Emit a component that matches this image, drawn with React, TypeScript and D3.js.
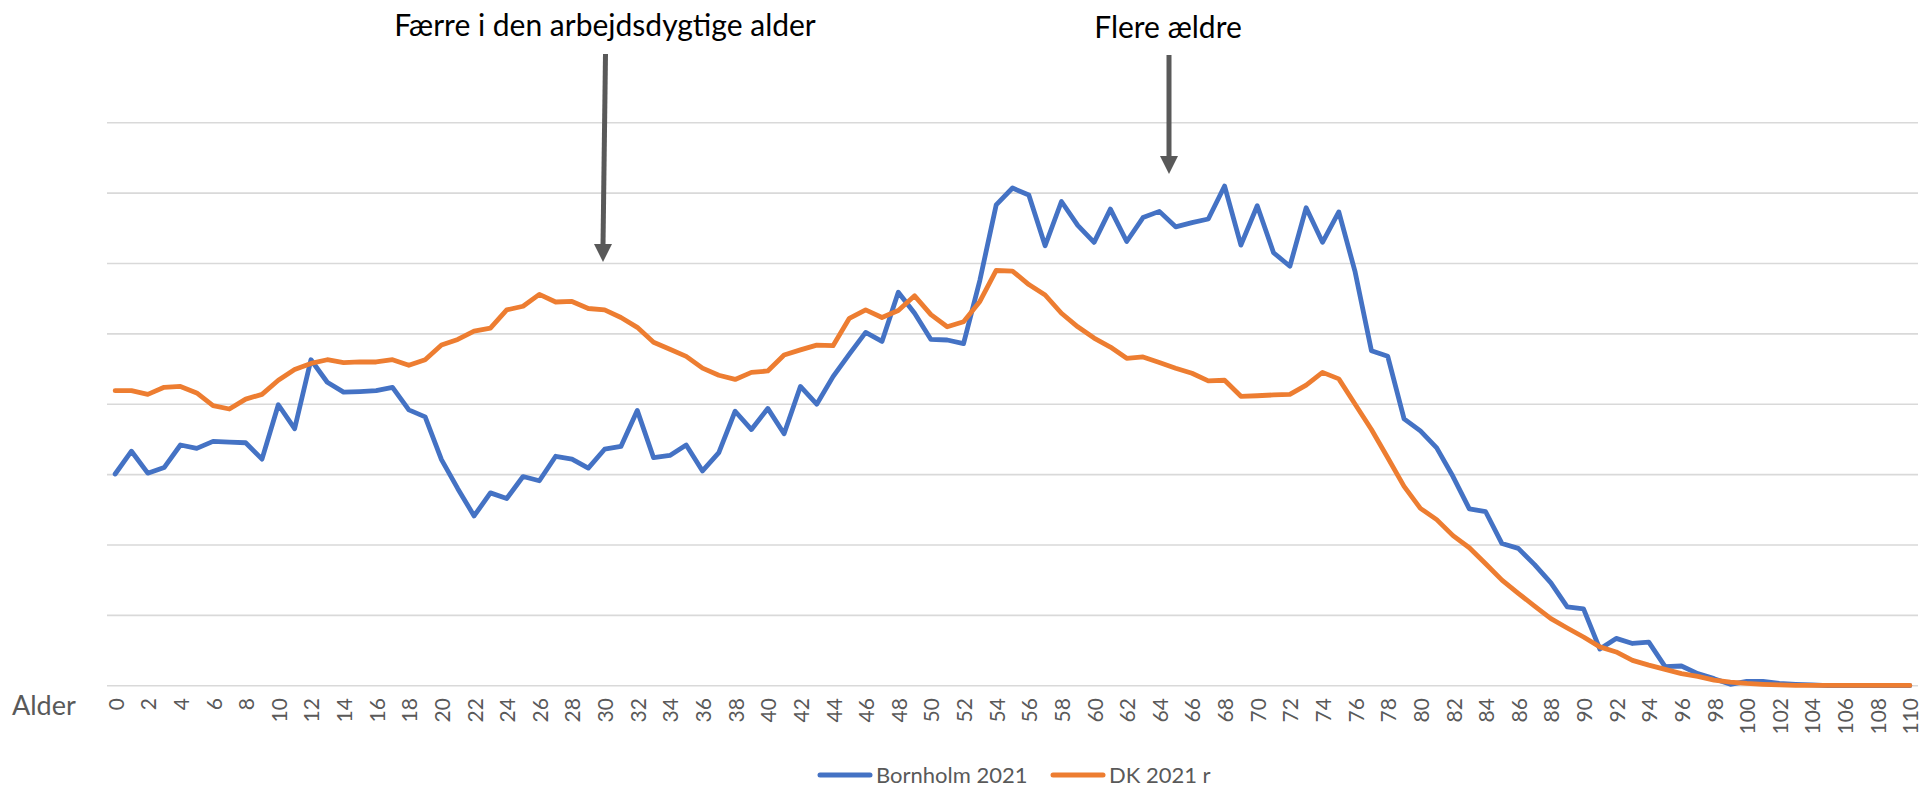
import React from "react";
import * as d3 from "d3";

// Ages 0..110
const ages: number[] = d3.range(0, 111);
const tickAges: number[] = d3.range(0, 111, 2);

// Share of population by age (%) (gridline step 0.25 %)
const bornholm2021: number[] = [
  0.752, 0.833, 0.755, 0.775, 0.855, 0.843, 0.868, 0.865, 0.863, 0.805,
  0.998, 0.913, 1.158, 1.078, 1.043, 1.045, 1.048, 1.06, 0.98, 0.955,
  0.803, 0.7, 0.603, 0.685, 0.665, 0.743, 0.728, 0.815, 0.805, 0.773,
  0.84, 0.85, 0.978, 0.81, 0.818, 0.855, 0.763, 0.828, 0.975, 0.91,
  0.985, 0.895, 1.063, 1.0, 1.098, 1.178, 1.255, 1.223, 1.398, 1.323,
  1.23, 1.228, 1.215, 1.44, 1.708, 1.768, 1.743, 1.563, 1.72, 1.635,
  1.575, 1.693, 1.578, 1.663, 1.685, 1.63, 1.645, 1.658, 1.775, 1.565,
  1.705, 1.538, 1.49, 1.698, 1.575, 1.683, 1.47, 1.19, 1.17, 0.948,
  0.905, 0.845, 0.743, 0.628, 0.618, 0.505, 0.488, 0.43, 0.365, 0.28,
  0.273, 0.13, 0.168, 0.15, 0.155, 0.068, 0.07, 0.043, 0.025, 0.005,
  0.015, 0.015, 0.008, 0.005, 0.003, 0, 0, 0, 0, 0,
  0,
];

const dk2021r: number[] = [
  1.048, 1.048, 1.035, 1.06, 1.063, 1.04, 0.995, 0.983, 1.018, 1.035,
  1.085, 1.123, 1.145, 1.158, 1.148, 1.15, 1.15, 1.158, 1.138, 1.158,
  1.21, 1.23, 1.26, 1.27, 1.335, 1.348, 1.39, 1.363, 1.365, 1.34,
  1.335, 1.308, 1.273, 1.22, 1.195, 1.17, 1.128, 1.103, 1.088, 1.113,
  1.118, 1.175, 1.193, 1.21, 1.208, 1.305, 1.335, 1.308, 1.333, 1.385,
  1.318, 1.275, 1.293, 1.365, 1.475, 1.473, 1.425, 1.388, 1.323, 1.275,
  1.235, 1.203, 1.163, 1.168, 1.148, 1.128, 1.11, 1.083, 1.085, 1.028,
  1.03, 1.033, 1.035, 1.068, 1.113, 1.09, 1.0, 0.91, 0.81, 0.708,
  0.63, 0.59, 0.533, 0.49, 0.433, 0.375, 0.328, 0.283, 0.238, 0.205,
  0.173, 0.138, 0.12, 0.09, 0.073, 0.058, 0.043, 0.033, 0.02, 0.013,
  0.008, 0.005, 0.003, 0.001, 0.001, 0.001, 0.001, 0.001, 0.001, 0.001,
  0.001,
];

const gridValues: number[] = d3.range(0, 2.0001, 0.25);

const seriesNames: string[] = ["Bornholm 2021", "DK 2021 r"];
const seriesColors: string[] = ["#4472C4", "#ED7D31"];

const annotations = [
  { text: "Færre i den arbejdsdygtige alder", age: 30 },
  { text: "Flere ældre", age: 65 },
];

const W = 1924;
const H = 789;
const FONT = "Lato, 'Open Sans', sans-serif";
const GREY = "#595959";

export default function App() {
  const x = d3
    .scaleBand<number>()
    .domain(ages)
    .range([107, 1918]);
  const cx = (a: number) => (x(a) as number) + x.bandwidth() / 2;
  const y = d3.scaleLinear().domain([0, 2]).range([685.7, 122.7]);

  const line = d3
    .line<number>()
    .x((_, i) => cx(ages[i]))
    .y((d) => y(d));

  const series = [bornholm2021, dk2021r];

  // annotation arrows
  const arrows = [
    { x1: 605.5, y1: 54, x2: 603, y2: 262, text: annotations[0].text, tx: 605, ty: 36 },
    { x1: 1169, y1: 55, x2: 1169, y2: 174, text: annotations[1].text, tx: 1168, ty: 38 },
  ];

  return (
    <svg
      width={W}
      height={H}
      style={{ position: "absolute", left: 0, top: 0, display: "block", background: "#fff" }}
      fontFamily={FONT}
    >
      {gridValues.map((g) => (
        <line
          key={g}
          x1={107}
          x2={1918}
          y1={y(g)}
          y2={y(g)}
          stroke="#d9d9d9"
          strokeWidth={1.6}
        />
      ))}

      {tickAges.map((a) => (
        <text
          key={a}
          transform={`translate(${cx(a)},${698}) rotate(-90)`}
          textAnchor="end"
          dominantBaseline="central"
          fontSize={21}
          fill={GREY}
        >
          {a}
        </text>
      ))}

      <text x={12} y={715} fontSize={27} fill={GREY}>
        Alder
      </text>

      {series.map((s, i) => (
        <path
          key={i}
          d={line(s) || ""}
          fill="none"
          stroke={seriesColors[i]}
          strokeWidth={4.8}
          strokeLinejoin="round"
          strokeLinecap="round"
        />
      ))}

      {arrows.map((a, i) => {
        const hw = 9;
        const hh = 18;
        return (
          <g key={i}>
            <line
              x1={a.x1}
              y1={a.y1}
              x2={a.x2}
              y2={a.y2 - hh + 1}
              stroke={GREY}
              strokeWidth={5}
            />
            <polygon
              points={`${a.x2 - hw},${a.y2 - hh} ${a.x2 + hw},${a.y2 - hh} ${a.x2},${a.y2}`}
              fill={GREY}
            />
            <text x={a.tx} y={a.ty} textAnchor="middle" fontSize={30} fill="#000">
              {a.text}
            </text>
          </g>
        );
      })}

      {/* legend */}
      {seriesNames.map((n, i) => {
        const lx = i === 0 ? 820 : 1053;
        return (
          <g key={n}>
            <line
              x1={lx}
              x2={lx + 50}
              y1={775}
              y2={775}
              stroke={seriesColors[i]}
              strokeWidth={5}
              strokeLinecap="round"
            />
            <text x={lx + 56} y={783} fontSize={22} fill={GREY}>
              {n}
            </text>
          </g>
        );
      })}
    </svg>
  );
}
